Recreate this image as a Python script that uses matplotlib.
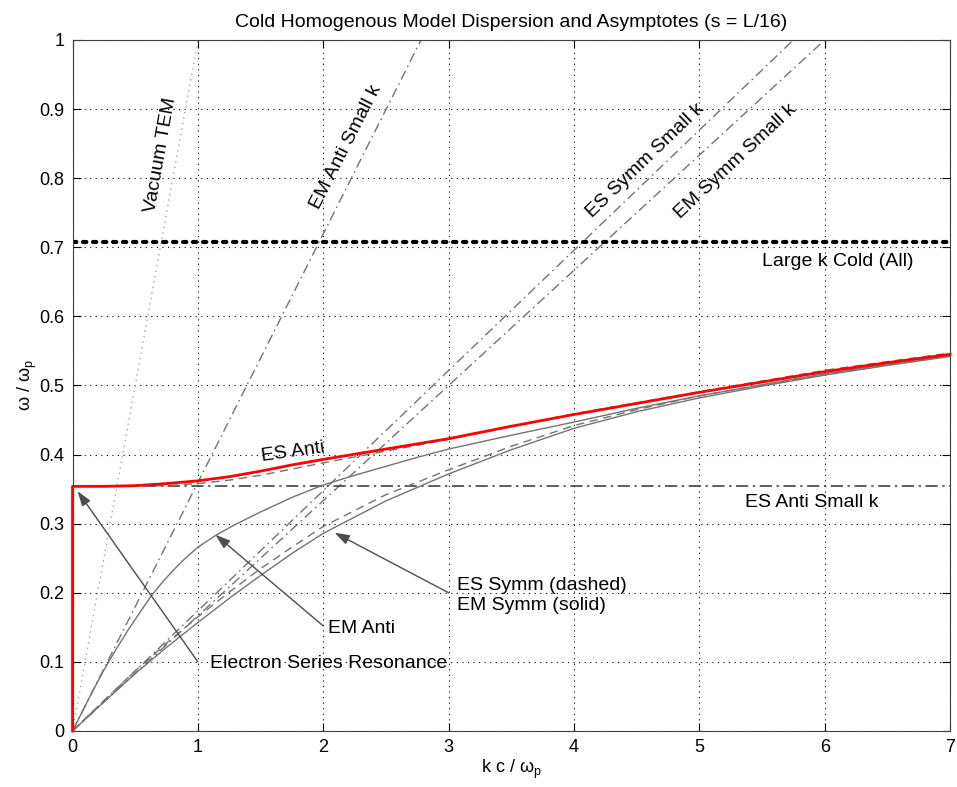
import numpy as np
import matplotlib.pyplot as plt

plt.rcParams['font.family'] = ['Liberation Sans', 'DejaVu Sans']
plt.rcParams['mathtext.default'] = 'regular'

# ---- data ----
k_es_anti = [0, 0, 0.25, 0.5, 0.75, 1.0, 1.25, 1.5, 1.75, 2.0, 2.5, 3.0, 3.5, 4.0, 4.5, 5.0, 5.5, 6.0, 6.5, 7.0]
w_es_anti = [0, 0.354, 0.354, 0.355, 0.358, 0.362, 0.368, 0.376, 0.385, 0.393, 0.408, 0.423, 0.441, 0.458,
             0.474, 0.490, 0.505, 0.520, 0.533, 0.545]

# grey dashed ES anti under the red one
k_es_anti2 = [0, 0.5, 0.75, 1.0, 1.25, 1.5, 1.75, 2.0, 2.5, 3.0, 4.0, 5.0, 6.0, 7.0]
w_es_anti2 = [0.354, 0.354, 0.355, 0.358, 0.363, 0.370, 0.379, 0.388, 0.405, 0.422, 0.459, 0.491, 0.522, 0.547]

k_em_anti = [0, 0.05, 0.15, 0.25, 0.35, 0.45, 0.55, 0.63, 0.72, 0.8, 0.9, 1.0, 1.15, 1.3, 1.5, 1.75,
             2.0, 2.25, 2.5, 2.75, 3.0, 3.5, 4.0, 4.5, 5.0, 5.5, 6.0, 6.5, 7.0]
w_em_anti = [0, 0.018, 0.054, 0.088, 0.119, 0.148, 0.175, 0.196, 0.216, 0.232, 0.250, 0.266, 0.284, 0.299,
             0.317, 0.338, 0.356, 0.370, 0.383, 0.396, 0.408, 0.428, 0.447, 0.467, 0.485, 0.501, 0.517,
             0.531, 0.544]

k_symm = [0, 0.25, 0.5, 0.75, 1.0, 1.25, 1.5, 1.75, 2.0, 2.5, 3.0, 3.5, 4.0, 4.5, 5.0, 5.5, 6.0, 6.5, 7.0]
w_es_symm = [0, 0.044, 0.087, 0.127, 0.165, 0.201, 0.235, 0.266, 0.296, 0.342, 0.378, 0.412, 0.442, 0.465,
             0.485, 0.501, 0.516, 0.530, 0.543]
w_em_symm = [0, 0.042, 0.083, 0.121, 0.157, 0.192, 0.225, 0.257, 0.286, 0.333, 0.372, 0.407, 0.438, 0.462,
             0.482, 0.499, 0.515, 0.529, 0.542]

# asymptotes (end points)
k_tem = [0, 1.0]
w_tem = [0, 1.0]
k_em_anti_small = [0, 2.78]
k_es_symm_small = [0, 5.75]
k_em_symm_small = [0, 6.0]
w_top = [0, 1.0]
w_es_anti_small = 0.354
w_large_k = 0.707

grey = '0.45'
dash = (0, (6, 4))
dashdot = (0, (7, 3, 1.2, 3))

fig = plt.figure(figsize=(9.57, 7.87), dpi=100)
ax = fig.add_axes([0.0758, 0.0712, 0.917, 0.878])

# asymptotes
ax.plot(k_tem, w_tem, color='0.65', ls=(0, (1, 3)), lw=1)
ax.plot(k_em_anti_small, w_top, color=grey, ls=dashdot, lw=1)
ax.plot(k_es_symm_small, w_top, color=grey, ls=dashdot, lw=1)
ax.plot(k_em_symm_small, w_top, color=grey, ls=dashdot, lw=1)
ax.axhline(w_es_anti_small, color='0.2', ls=(0, (8, 3, 1.5, 3)), lw=1.1)
ax.axhline(w_large_k, color='k', ls=(0, (0.8, 1.6)), lw=3, dash_capstyle='round')

# dispersion curves
ax.plot(k_symm, w_es_symm, color=grey, ls=dash, lw=1)
ax.plot(k_symm, w_em_symm, color=grey, lw=1)
ax.plot(k_em_anti, w_em_anti, color=grey, lw=1)
ax.plot(k_es_anti2, w_es_anti2, color=grey, ls=dash, lw=1)
ax.plot(k_es_anti, w_es_anti, color='red', lw=2, clip_on=False, zorder=5)

ax.set_xlim(0, 7)
ax.set_ylim(0, 1)
ax.set_xticks(range(8))
ax.set_yticks(np.arange(0, 1.01, 0.1))
ax.set_yticklabels(['0', '0.1', '0.2', '0.3', '0.4', '0.5', '0.6', '0.7', '0.8', '0.9', '1'])
ax.grid(True, color='k', ls=(0, (1, 4)), lw=0.8)
ax.tick_params(direction='in', top=True, right=True, length=6, labelsize=13, colors='k', pad=6)
for s in ax.spines.values():
    s.set_color('0.25')

ax.set_title('Cold Homogenous Model Dispersion and Asymptotes (s = L/16)', fontsize=14, pad=9)
ax.set_xlabel('k c / ω$_{p}$', fontsize=13, labelpad=1)
ax.set_ylabel('ω / ω$_{p}$', fontsize=13, labelpad=0)

# labels
fs = 14
ax.text(0.70, 0.834, 'Vacuum TEM', rotation=80, ha='center', va='center', fontsize=fs)
ax.text(2.18, 0.845, 'EM Anti Small k', rotation=63, ha='center', va='center', fontsize=fs)
ax.text(4.57, 0.826, 'ES Symm Small k', rotation=44, ha='center', va='center', fontsize=fs)
ax.text(5.29, 0.824, 'EM Symm Small k', rotation=43, ha='center', va='center', fontsize=fs)
ax.text(5.5, 0.679, 'Large k Cold (All)', ha='left', va='center', fontsize=fs)
ax.text(5.36, 0.330, 'ES Anti Small k', ha='left', va='center', fontsize=fs)
ax.text(1.76, 0.404, 'ES Anti', rotation=8, ha='center', va='center', fontsize=fs)

arrow = dict(arrowstyle='-|>,head_length=0.9,head_width=0.3', color='0.3', lw=1, shrinkA=0, shrinkB=0)
ax.annotate('', xy=(0.04, 0.347), xytext=(1.0, 0.1), arrowprops=arrow)
ax.text(1.1, 0.097, 'Electron Series Resonance', ha='left', va='center', fontsize=fs)
ax.annotate('', xy=(1.14, 0.284), xytext=(2.0, 0.152), arrowprops=arrow)
ax.text(2.04, 0.149, 'EM Anti', ha='left', va='center', fontsize=fs)
ax.annotate('', xy=(2.09, 0.287), xytext=(3.0, 0.2), arrowprops=arrow)
ax.text(3.07, 0.211, 'ES Symm (dashed)', ha='left', va='center', fontsize=fs)
ax.text(3.07, 0.181, 'EM Symm (solid)', ha='left', va='center', fontsize=fs)

plt.savefig('out.png', dpi=100)
